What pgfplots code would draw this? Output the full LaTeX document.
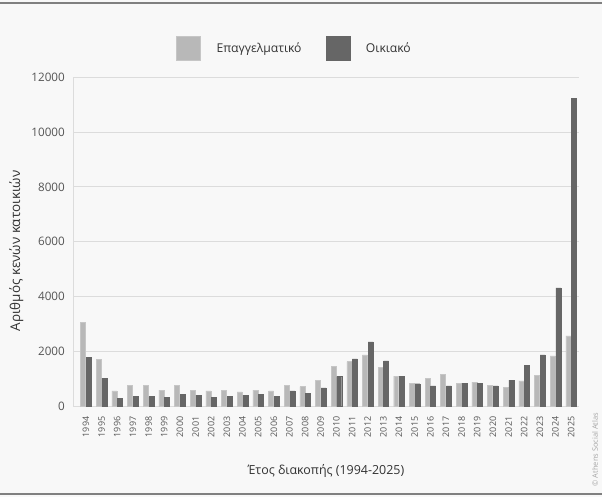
\documentclass[border=0pt]{standalone}
\usepackage{pgfplots}
\pgfplotsset{compat=1.18}
\usepackage{pgfplotstable}
\usepackage{fontspec}
\setmainfont{Open Sans}
\definecolor{bg}{HTML}{F8F8F8}
\definecolor{frame}{HTML}{808080}
\definecolor{eclr}{HTML}{B8B8B8}
\definecolor{oclr}{HTML}{666666}
\definecolor{gridc}{HTML}{DCDCDC}
\definecolor{txt}{HTML}{333333}
\definecolor{tick}{HTML}{555555}

\pgfplotstableread{
x year E O
0 1994 3070 1785
1 1995 1720 1035
2 1996 565 290
3 1997 770 360
4 1998 770 360
5 1999 600 325
6 2000 770 445
7 2001 600 410
8 2002 565 325
9 2003 600 360
10 2004 530 410
11 2005 600 445
12 2006 565 360
13 2007 770 565
14 2008 725 470
15 2009 950 675
16 2010 1465 1095
17 2011 1635 1735
18 2012 1880 2350
19 2013 1420 1660
20 2014 1105 1095
21 2015 840 830
22 2016 1030 750
23 2017 1175 750
24 2018 850 850
25 2019 885 850
26 2020 775 750
27 2021 690 960
28 2022 935 1495
29 2023 1140 1880
30 2024 1845 4320
31 2025 2570 11220
}\datatable

\begin{document}
\begin{tikzpicture}
\fill[bg] (0,0) rectangle (602bp,497bp);
\useasboundingbox (0,0) rectangle (602bp,497bp);
\draw[frame, line width=2bp] (0,494bp) -- (602bp,494bp);
\draw[frame, line width=2bp] (0,3bp) -- (602bp,3bp);
\begin{axis}[
  at={(73bp,90.5bp)}, anchor=south west,
  scale only axis, width=506bp, height=329.5bp,
  ybar=0.6bp, bar width=5bp,
  xmin=-0.83, xmax=31.5, ymin=0, ymax=12000,
  xtick=data,
  xticklabels={1994,1995,1996,1997,1998,1999,2000,2001,2002,2003,2004,2005,2006,2007,2008,2009,2010,2011,2012,2013,2014,2015,2016,2017,2018,2019,2020,2021,2022,2023,2024,2025},
  x tick label style={rotate=90, anchor=east, font=\fontsize{9}{10}\selectfont, text=tick, inner sep=0pt},
  xticklabel shift=10bp,
  ytick={0,2000,4000,6000,8000,10000,12000},
  y tick label style={font=\fontsize{11.7}{12}\selectfont, text=tick, inner sep=0pt},
  yticklabel shift=8bp,
  /pgf/number format/assume math mode=true,
  scaled y ticks=false,
  yticklabel style={/pgf/number format/1000 sep={}},
  major tick length=0pt,
  axis x line*=bottom, axis y line*=left,
  axis line style={gridc, line width=0.8bp},
  ymajorgrids, grid style={gridc, line width=0.8bp},
  xlabel={Έτος διακοπής (1994-2025)},
  ylabel={Αριθμός κενών κατοικιών},
  xlabel style={font=\fontsize{12.5}{13}\selectfont, text=txt, at={(axis description cs:0.5,0)}, anchor=center, yshift=-64bp},
  ylabel style={font=\fontsize{13.5}{14}\selectfont, text=txt, at={(axis description cs:-0.112,0.472)}, anchor=center},
  legend style={at={(0.4377,1)}, anchor=center, yshift=29bp, draw=none, fill=none,
    legend columns=2, font=\fontsize{12.2}{13}\selectfont, text=txt, inner sep=0pt,
    /tikz/every even column/.append style={column sep=22bp},
    /tikz/every odd column/.append style={column sep=14bp}},
  legend image code/.code={\fill[#1] (0bp,-12bp) rectangle (24bp,12bp);},
]
\addplot[fill=eclr, draw=eclr!80!white] table[x=x, y=E] {\datatable};
\addplot[fill=oclr, draw=oclr] table[x=x, y=O] {\datatable};
\legend{Επαγγελματικό, Οικιακό}
\end{axis}
\node[rotate=90, text=frame!70!white, font=\fontsize{7.5}{8}\selectfont] at (595bp,47.5bp) {© Athens Social Atlas};
\end{tikzpicture}
\end{document}
